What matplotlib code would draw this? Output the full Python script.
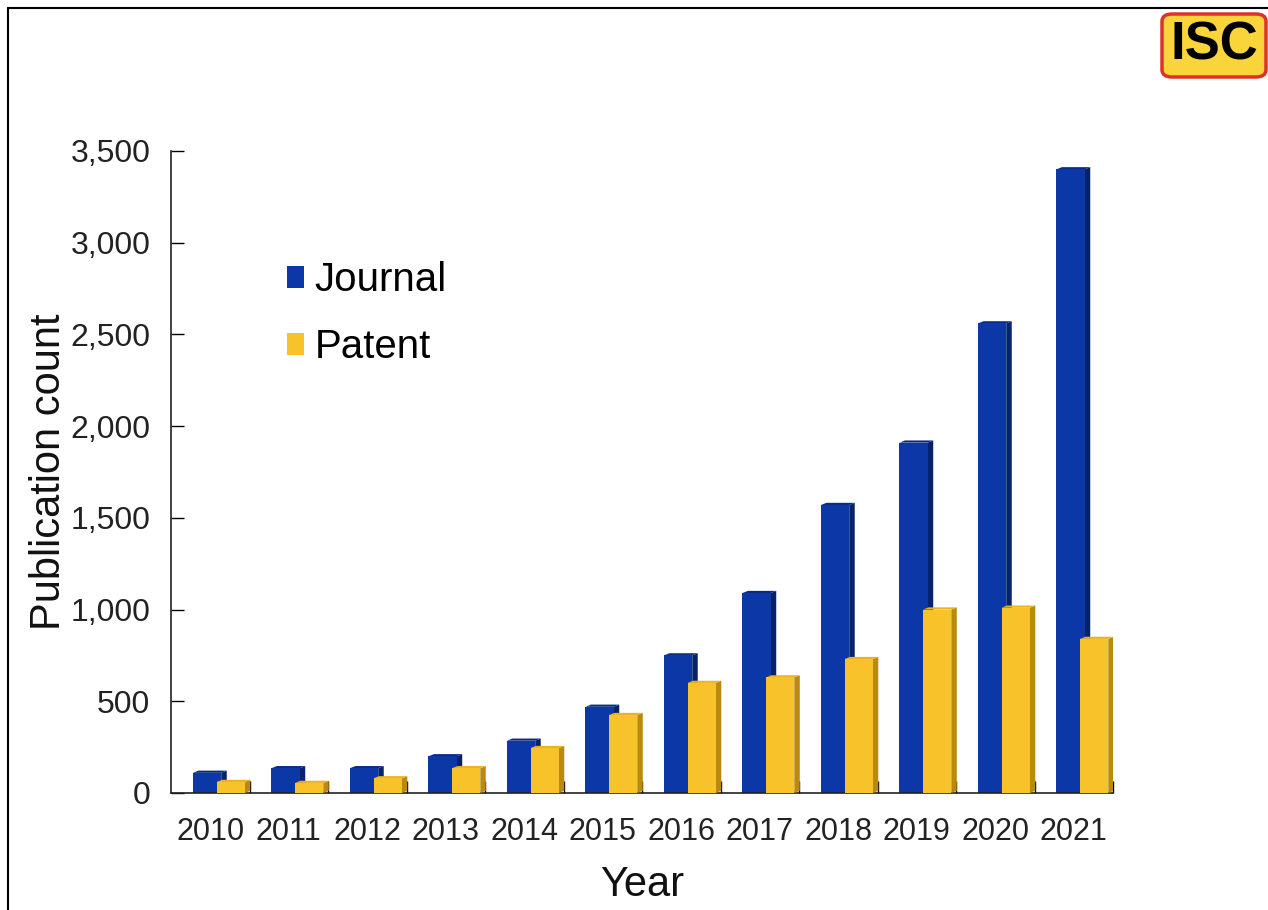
import matplotlib
matplotlib.use("Agg")
import matplotlib.pyplot as plt
import numpy as np
from matplotlib.patches import FancyBboxPatch, Rectangle

years = ["2010", "2011", "2012", "2013", "2014", "2015", "2016", "2017", "2018", "2019", "2020", "2021"]
journal = [110, 135, 135, 200, 285, 470, 750, 1090, 1570, 1910, 2560, 3400]
patent = [60, 55, 80, 135, 245, 425, 600, 630, 730, 1000, 1010, 840]
yticks = [0, 500, 1000, 1500, 2000, 2500, 3000, 3500]

plt.rcParams['font.family'] = ['Liberation Sans', 'DejaVu Sans']

fig = plt.figure(figsize=(12.68, 9.10), dpi=100)
ax = fig.add_axes([171/1268, 1 - 793/910, (1113-171)/1268, (793-151)/910])

x = np.arange(len(years))
w = 0.36
off_j = -0.04
off_p = 0.26
dx = 0.07
dy = 40

def bar3d(xc, h, front, side, top, z):
    for xi, hi in zip(xc, h):
        l, r = xi - w/2, xi + w/2
        ax.fill([r, r+dx, r+dx, r], [0, dy*0.3, hi+dy*0.3, hi], color=side, zorder=z, lw=0)
        ax.fill([l, l+dx, r+dx, r], [hi, hi+dy*0.3, hi+dy*0.3, hi], color=top, zorder=z, lw=0)
    ax.bar(xc, h, width=w, color=front, zorder=z+0.5, lw=0)

bar3d(x + off_j, journal, "#0B38A6", "#06226B", "#0A2C80", 2)
bar3d(x + off_p, patent, "#F8C22A", "#B88A12", "#E8B420", 3)

ax.set_xlim(-0.5, len(years) - 0.5)
ax.set_ylim(0, 3500)
ax.set_yticks(yticks)
ax.set_yticklabels([f"{v:,}" for v in yticks], fontsize=23, color="#222222")
ax.set_xticks(x)
ax.set_xticklabels(years, fontsize=22, color="#222222")
ax.set_xticks(np.arange(len(years)) + 0.5, minor=True)
ax.tick_params(axis='x', which='major', length=0, pad=17)
ax.tick_params(axis='x', which='minor', direction='in', length=9, width=1)
ax.tick_params(axis='y', direction='in', length=9, width=1, pad=15)
for s in ["top", "right"]:
    ax.spines[s].set_visible(False)
for s in ["left", "bottom"]:
    ax.spines[s].set_linewidth(1.2)
    ax.spines[s].set_color("#222222")

ax.set_ylabel("Publication count", fontsize=30, color="#111111", labelpad=1)
ax.set_xlabel("Year", fontsize=30, color="#111111", labelpad=13)

hj = ax.bar([np.nan], [np.nan], color="#0B38A6", label="Journal")
hp = ax.bar([np.nan], [np.nan], color="#F8C22A", label="Patent")
leg = ax.legend(handles=[hj, hp], loc="upper left", bbox_to_anchor=(0.085, 0.885),
                frameon=False, fontsize=29, handlelength=0.42, handleheight=0.45,
                handletextpad=0.25, labelspacing=0.72)

# figure border
fig.patches.append(Rectangle((8/1268, -0.1), 1.2, (910-8)/910 + 0.1, transform=fig.transFigure,
                             fill=False, edgecolor="black", lw=1.5))
# logo
fig.patches.append(FancyBboxPatch((1162/1268, 1 - 77/910), 104/1268, 63/910,
                                  boxstyle="round,pad=0,rounding_size=0.008",
                                  transform=fig.transFigure, facecolor="#F9D43A",
                                  edgecolor="#E0302A", lw=2.5))
fig.text(1214/1268, 1 - 46/910, "ISC", fontsize=38, fontweight="bold", ha="center",
         va="center", color="black")

fig.savefig("out.png", dpi=100)
